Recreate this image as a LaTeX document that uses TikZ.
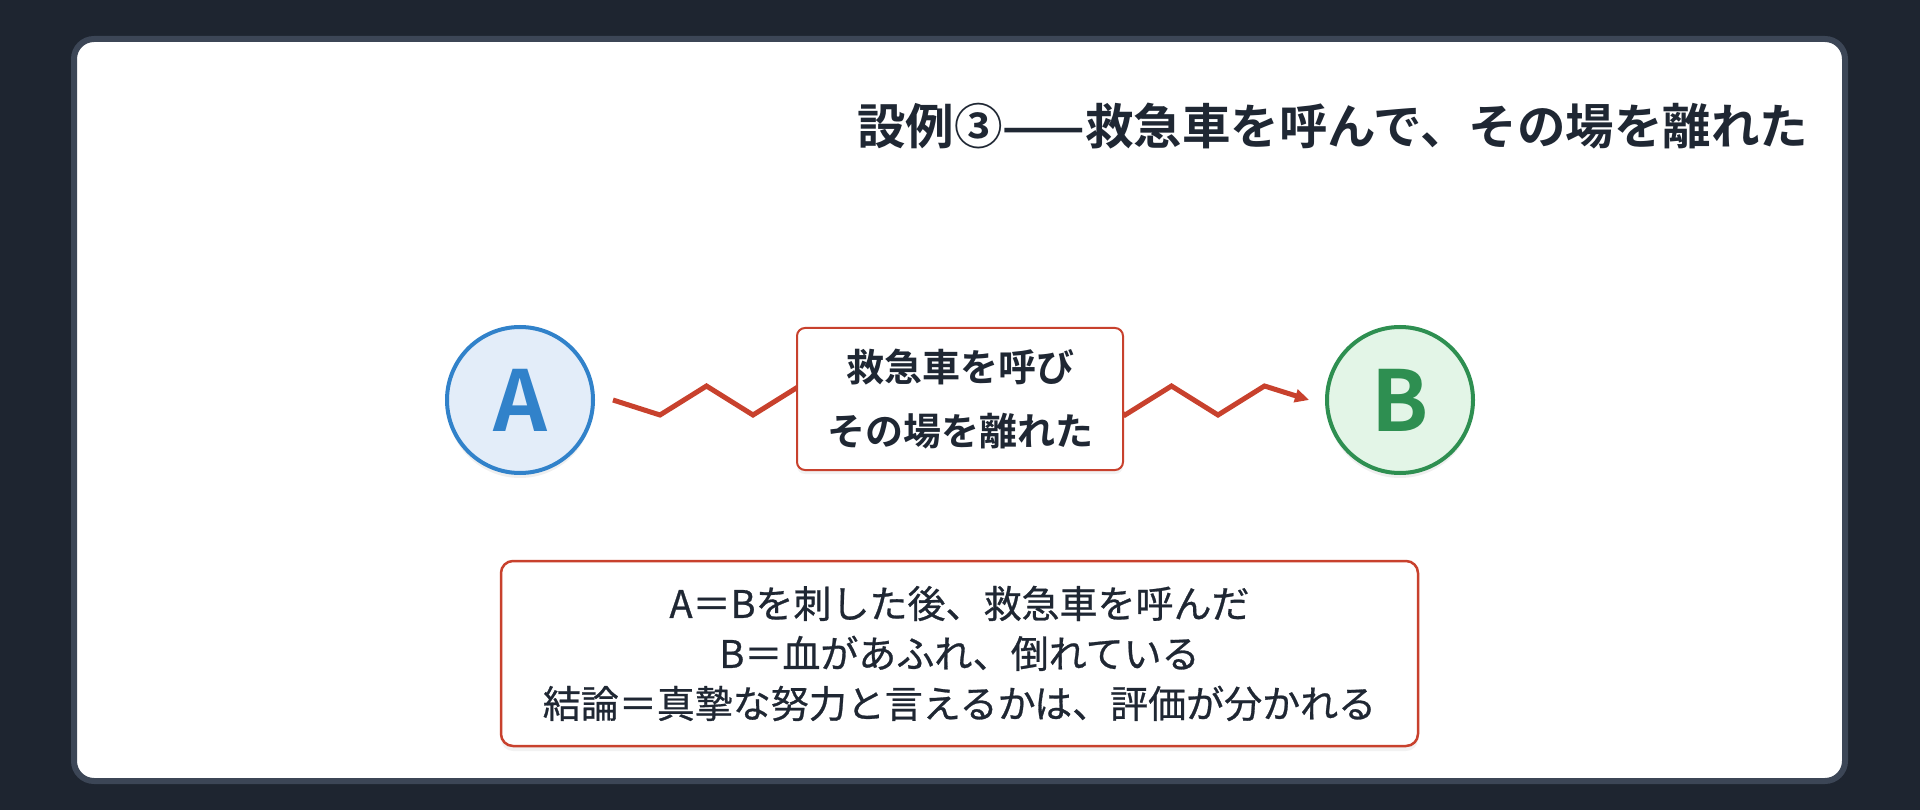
\documentclass[tikz,border=0pt]{standalone}
\usepackage{fontspec}
\setmainfont{Noto Sans CJK JP}[BoldFont={Noto Sans CJK JP Bold}]
\newfontfamily\semifont{Noto Sans CJK JP}[FakeBold=0.7]
\usetikzlibrary{arrows.meta,shadows}
\definecolor{pagebg}{HTML}{1E2530}
\definecolor{cardedge}{HTML}{3C4656}
\definecolor{ink}{HTML}{1F2733}
\definecolor{blueA}{HTML}{3182CA}
\definecolor{blueFill}{HTML}{E3EDF9}
\definecolor{greenB}{HTML}{2E8F51}
\definecolor{greenFill}{HTML}{E3F5E7}
\definecolor{redLine}{HTML}{C8412D}

\begin{document}
\begin{tikzpicture}[x=1pt, y=-1pt,
	person/.style={circle, line width=4pt, minimum size=146pt, inner sep=0pt,
		font=\fontsize{84}{84}\selectfont\bfseries,
		drop shadow={opacity=0.12, shadow xshift=0pt, shadow yshift=-5pt}},
	actbox/.style={draw=redLine, fill=white, line width=2pt, rounded corners=8pt,
		minimum width=326pt, minimum height=142pt, align=center, text=ink,
		font=\fontsize{38}{64}\selectfont\bfseries,
		drop shadow={opacity=0.1, shadow xshift=0pt, shadow yshift=-4pt}},
	notebox/.style={draw=redLine, fill=white, line width=2.5pt, rounded corners=12pt,
		minimum width=917pt, minimum height=185pt, align=center, text=ink,
		font=\fontsize{38}{50}\selectfont\semifont,
		drop shadow={opacity=0.1, shadow xshift=0pt, shadow yshift=-5pt}},
	zigline/.style={draw=redLine, line width=5pt, -{Triangle[length=14pt, width=13pt]}}]
	% background and card
	\fill[pagebg] (0,0) rectangle (1920,810);
	\useasboundingbox (0,0) rectangle (1920,810);
	\draw[cardedge, fill=white, line width=6pt, rounded corners=20pt] (74,39) rectangle (1845,781);
	\node[anchor=east, text=ink, font=\fontsize{48.5}{48}\selectfont\bfseries] (title) at (1812,126) {設例③——救急車を呼んで、その場を離れた};
	% the two persons
	\node[person, draw=blueA, fill=blueFill, text=blueA] (A) at (520,400) {A};
	\node[person, draw=greenB, fill=greenFill, text=greenB] (B) at (1400,400) {B};
	% zigzag from A to B, the box sits on top of it
	\draw[zigline] ([xshift=18pt]A.east) -- ++(47,15)
		\foreach \k in {1,...,6}{ -- ++(46.5,-29) -- ++(46.5,29) } -- ++(46.5,-29)
		-- ([xshift=-16pt]B.west);
	\node[actbox] (act) at (960,399) {救急車を呼び\\その場を離れた};
	\node[notebox] (note) at (959.5,653.5) {A＝Bを刺した後、救急車を呼んだ\\B＝血があふれ、倒れている\\結論＝真摯な努力と言えるかは、評価が分かれる};
\end{tikzpicture}
\end{document}
